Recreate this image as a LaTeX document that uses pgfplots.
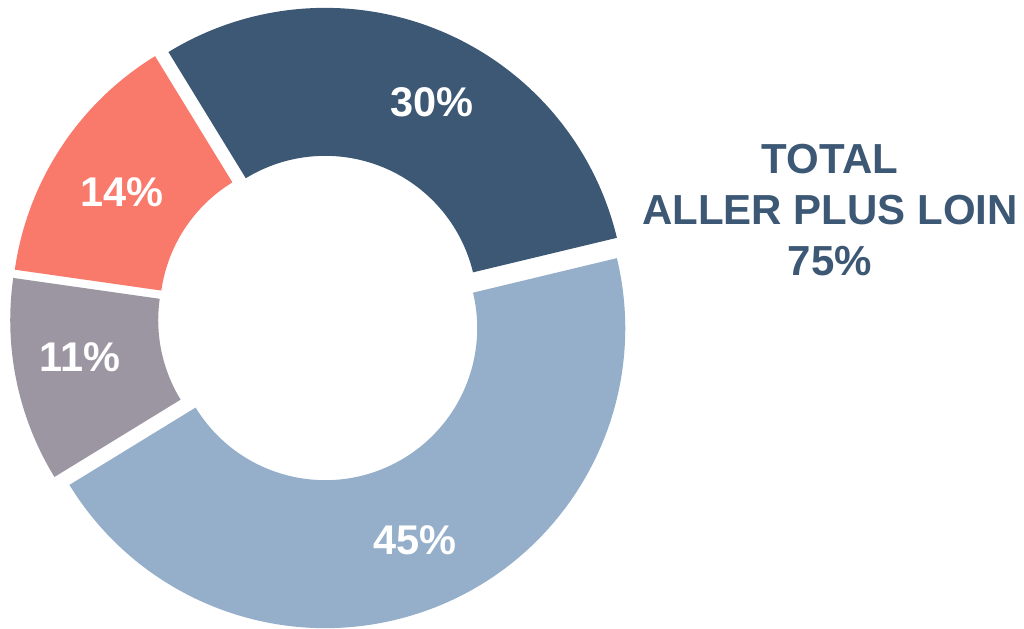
\documentclass[border=0pt]{standalone}
\usepackage{pgfplots}
\usepackage{pgfplotstable}
\pgfplotsset{compat=1.18}
\usepackage{fontspec}
\setmainfont{Liberation Sans}
\definecolor{cdark}{RGB}{61,88,117}
\definecolor{clight}{RGB}{149,175,202}
\definecolor{cgrey}{RGB}{156,150,163}
\definecolor{csalmon}{RGB}{249,121,107}
\pgfplotstableread{
share colour
30 cdark
45 clight
11 cgrey
14 csalmon
}\sharetable
\begin{document}
\begin{tikzpicture}
\begin{axis}[
  at={(0,0)}, anchor=south west,
  x=0.5pt, y=0.5pt,
  xmin=0, xmax=1024, ymin=0, ymax=628,
  hide axis, clip=false,
]
\pgfplotsextra{
  \foreach \i [remember=\b as \a (initially 121.5)] in {0,...,3}{
    \pgfplotstablegetelem{\i}{share}\of\sharetable
    \let\val\pgfplotsretval
    \pgfplotstablegetelem{\i}{colour}\of\sharetable
    \let\col\pgfplotsretval
    \pgfmathsetmacro{\b}{\a-3.6*\val}
    \pgfmathsetmacro{\m}{(\a+\b)/2}
    \fill[\col, shift={(\m:5.5pt)}] (axis cs:321,310) ++(\a:150pt)
      arc[start angle=\a, end angle=\b, radius=150pt]
      -- ++(\b:-74pt)
      arc[start angle=\b, end angle=\a, radius=76pt] -- cycle;
  }
}
\node[white, font=\bfseries\fontsize{20.75}{24}\selectfont] at (axis cs:432,526) {30\%};
\node[white, font=\bfseries\fontsize{20.75}{24}\selectfont] at (axis cs:122,436) {14\%};
\node[white, font=\bfseries\fontsize{20.75}{24}\selectfont] at (axis cs:80,271) {11\%};
\node[white, font=\bfseries\fontsize{20.75}{24}\selectfont] at (axis cs:415,88) {45\%};
\node[text=cdark, align=center, font=\bfseries\fontsize{21}{25.5}\selectfont] at (axis cs:830,418) {TOTAL\\ALLER PLUS LOIN\\75\%};
\end{axis}
\pgfresetboundingbox
\useasboundingbox (0,0) rectangle (512pt,314pt);
\end{tikzpicture}
\end{document}
